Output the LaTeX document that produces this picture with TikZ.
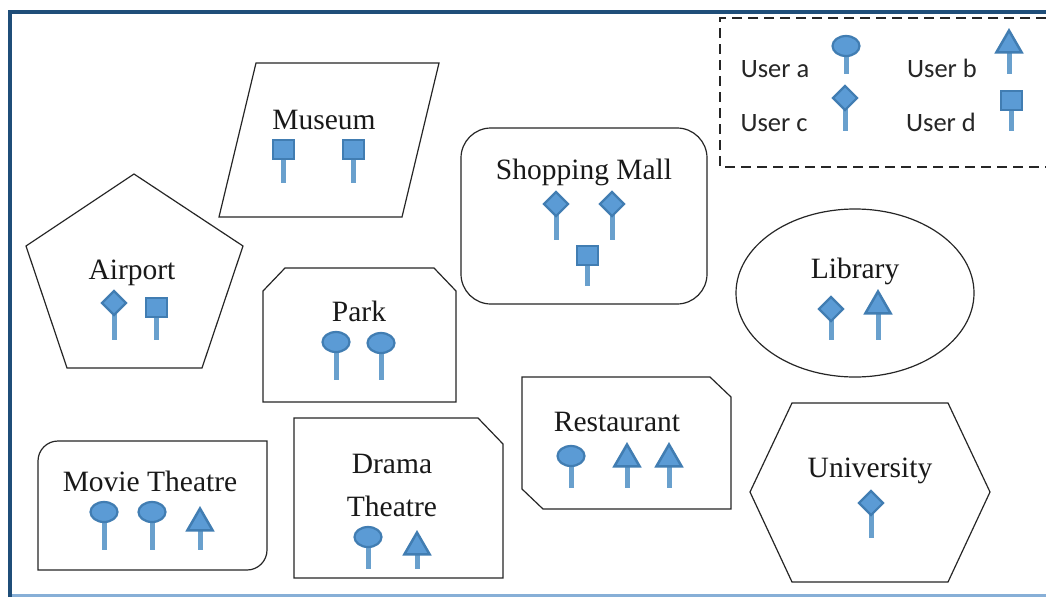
\documentclass[tikz,border=0pt]{standalone}
\usepackage{fontspec}
\setmainfont{Liberation Serif}
\newfontfamily\legendfont{Carlito}
\usetikzlibrary{shapes.geometric}
\definecolor{pinfill}{RGB}{91,155,213}
\definecolor{pinedge}{RGB}{65,125,178}
\definecolor{stemblue}{RGB}{105,160,205}
\definecolor{framedark}{RGB}{31,78,121}
\definecolor{framelight}{RGB}{135,175,215}
\tikzset{
    place/.style={draw=black!85, line width=1.2pt},
    placename/.style={font=\fontsize{29.5}{32}\selectfont, inner sep=0pt, anchor=base, black!90},
    usertext/.style={font=\legendfont\fontsize{26.5}{30}\selectfont, inner sep=0pt, anchor=base, black!85},
    stem/.style={draw=stemblue, line width=5pt},
    heada/.style={ellipse, draw=pinedge, fill=pinfill, line width=2.2pt, minimum width=27pt, minimum height=20pt, inner sep=0pt},
    headb/.style={regular polygon, regular polygon sides=3, draw=pinedge, fill=pinfill, line width=2.5pt, minimum size=29pt, inner sep=0pt},
    headc/.style={diamond, draw=pinedge, fill=pinfill, line width=2.2pt, minimum width=25pt, minimum height=25pt, inner sep=0pt},
    headd/.style={rectangle, draw=pinedge, fill=pinfill, line width=2pt, minimum width=21pt, minimum height=19pt, inner sep=0pt},
}
% #1 head style, #2 name, #3 x of head and stem, #4 y of head, #5 y of stem end
\newcommand{\userpin}[5]{
    \coordinate (#2end) at (#3,#5);
    \draw[stem] (#3,#4) -- (#2end);
    \node[#1] (#2) at (#3,#4) {};
}
\begin{document}
\begin{tikzpicture}[x=1pt,y=-1pt]
    \useasboundingbox (0,0) rectangle (1046,597);
    \fill[white] (0,0) rectangle (1046,597);
    % frame
    \draw[framelight, line width=3pt] (10,595) -- (1046,595);
    \draw[framedark, line width=4pt] (10,597) -- (10,12) -- (1046,12);
    % legend
    \draw[black!85, line width=1.4pt, dash pattern=on 10pt off 6pt] (1046,18) -- (720,18) -- (720,167) -- (1046,167);
    \node[usertext] (labela) at (775,77) {User a};
    \node[usertext] (labelb) at (942,77) {User b};
    \node[usertext] (labelc) at (774,131) {User c};
    \node[usertext] (labeld) at (941,131) {User d};
    \userpin{heada}{keya}{846}{46}{74}
    \userpin{headb}{keyb}{1009}{45}{74}
    \userpin{headc}{keyc}{845}{98}{131}
    \userpin{headd}{keyd}{1011}{100}{131}
    % museum
    \draw[place] (256,63) -- (439,63) -- (402,217) -- (219,217) -- cycle;
    \node[placename] (museum) at (324,129) {Museum};
    \userpin{headd}{museuma}{283}{149}{183}
    \userpin{headd}{museumb}{353}{149}{183}
    % shopping mall
    \draw[place, rounded corners=30pt] (461,128) rectangle (707,304);
    \node[placename] (mall) at (584,179) {Shopping Mall};
    \userpin{headc}{malla}{556}{204}{240}
    \userpin{headc}{mallb}{612}{204}{240}
    \userpin{headd}{mallc}{587}{255}{286}
    % airport
    \draw[place] (134,174) -- (243,246) -- (202,368) -- (67,368) -- (26,246) -- cycle;
    \node[placename] (airport) at (132,279) {Airport};
    \userpin{headc}{airporta}{114}{303}{340}
    \userpin{headd}{airportb}{156}{307}{340}
    % park
    \draw[place] (263,291) -- (285,268) -- (434,268) -- (456,291) -- (456,402) -- (263,402) -- cycle;
    \node[placename] (park) at (359,321) {Park};
    \userpin{heada}{parka}{336}{342}{380}
    \userpin{heada}{parkb}{381}{343}{380}
    % library
    \draw[place] (855,293) ellipse (119 and 84);
    \node[placename] (library) at (855,278) {Library};
    \userpin{headc}{librarya}{831}{309}{340}
    \userpin{headb}{libraryb}{878}{306}{340}
    % restaurant
    \draw[place] (522,377) -- (710,377) -- (731,397) -- (731,509) -- (543,509) -- (522,489) -- cycle;
    \node[placename] (restaurant) at (617,431) {Restaurant};
    \userpin{heada}{restauranta}{571}{456}{488}
    \userpin{headb}{restaurantb}{627}{459}{488}
    \userpin{headb}{restaurantc}{669}{459}{488}
    % university
    \draw[place] (792,403) -- (948,403) -- (990,492) -- (948,582) -- (792,582) -- (750,492) -- cycle;
    \node[placename] (university) at (870,477) {University};
    \userpin{headc}{universitya}{871}{503}{538}
    % movie theatre
    \draw[place] (150,441) -- (267,441) [rounded corners=20pt] -- (267,570) [sharp corners] -- (38,570) [rounded corners=20pt] -- (38,441) [sharp corners] -- cycle;
    \node[placename] (movie) at (150,491) {Movie Theatre};
    \userpin{heada}{moviea}{104}{512}{550}
    \userpin{heada}{movieb}{152}{512}{550}
    \userpin{headb}{moviec}{200}{523}{550}
    % drama theatre
    \draw[place] (294,418) -- (478,418) -- (503,444) -- (503,578) -- (294,578) -- cycle;
    \node[placename] (drama) at (392,473) {Drama};
    \node[placename] (theatre) at (392,516) {Theatre};
    \userpin{heada}{dramaa}{368}{537}{569}
    \userpin{headb}{dramab}{417}{547}{569}
\end{tikzpicture}
\end{document}
